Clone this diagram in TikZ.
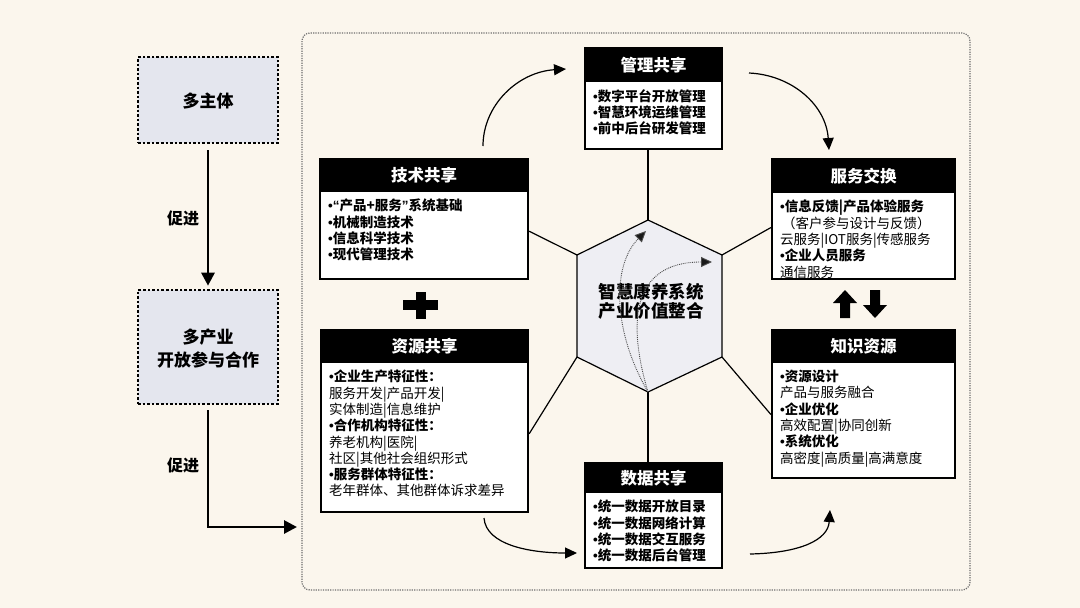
\documentclass[tikz,border=0pt]{standalone}
\usepackage{fontspec}
\setmainfont{Noto Sans CJK SC}
\newfontfamily\latinf{Liberation Sans}
\newcommand\bul{{\latinf •}}
\usetikzlibrary{arrows.meta,calc}
\definecolor{bgc}{RGB}{251,246,237}
\definecolor{lbox}{RGB}{228,230,238}
\definecolor{hexc}{RGB}{238,238,243}
\definecolor{framec}{RGB}{110,110,110}
\newcommand\mybox[8]{%
  \node[sbox, minimum width={#4-#2}, minimum height={#5-#3}] (#1) at ({(#2+#4)/2},{(#3+#5)/2}) {};
  \fill[black] (#2,#3) rectangle (#4,#6);
  \node[htitle] (#1-t) at ({(#2+#4)/2},{(#3+#6)/2}) {#7};
  \node[hbody] (#1-b) at (#2+8,#6+7) {#8};
}
\begin{document}
\begin{tikzpicture}[x=1pt,y=-1pt,
  sbox/.style={draw=black, line width=2.2pt, fill=white, inner sep=0pt},
  htitle/.style={text=white, font=\fontsize{16.5}{18}\selectfont\bfseries, inner sep=0pt},
  hbody/.style={anchor=north west, align=left, inner sep=0pt, font=\fontsize{13.5}{16.3}\selectfont},
  leftbox/.style={draw=black, line width=2.6pt, dash pattern=on 2.6pt off 2pt, fill=lbox, inner sep=0pt},
  lefttext/.style={font=\fontsize{17}{23}\selectfont\bfseries, align=center, inner sep=0pt},
  thickarrow/.style={line width=2.8pt, -{Triangle[length=13pt,width=13pt]}},
  curvearrow/.style={line width=1.2pt, -{Triangle[length=12pt,width=11pt]}},
  dotarrow/.style={densely dotted, line width=0.9pt, draw=black!70, -{Triangle[length=11pt,width=10pt,fill=black!90]}},
  hexline/.style={line width=1.2pt, draw=black},
  solidshape/.style={fill=black}
]
\fill[bgc] (0,0) rectangle (1080,608);
\useasboundingbox (0,0) rectangle (1080,608);

% big dotted frame
\draw[framec, line width=1.2pt, dash pattern=on 1.2pt off 1.2pt, rounded corners=8pt] (302,33) rectangle (970,590);

% left side
\node[leftbox, minimum width=140, minimum height=86] (m1) at (208,100) {};
\node[lefttext] (m1t) at (208,101) {多主体};
\node[leftbox, minimum width=140, minimum height=114] (m2) at (208,347) {};
\node[lefttext] (m2t) at (208,349) {多产业\\开放参与合作};
\draw[thickarrow] ($(m1.south)+(0,6)$) -- ($(m2.north)+(0,-3)$);
\node[lefttext, font=\fontsize{16}{18}\selectfont\bfseries] (p1) at (183,218) {促进};
\coordinate (c2) at (297,527);
\draw[thickarrow] ($(m2.south)+(0,5)$) |- (c2);
\node[lefttext, font=\fontsize{16}{18}\selectfont\bfseries] (p2) at (183,465) {促进};

% boxes
\mybox{gl}{585}{48}{722}{149}{82}{管理共享}{\bfseries \bul{}数字平台开放管理\\\bfseries \bul{}智慧环境运维管理\\\bfseries \bul{}前中后台研发管理}
\mybox{js}{320}{159}{528}{279}{192}{技术共享}{\bfseries \bul{}{\latinf\bfseries “}产品+服务{\latinf\bfseries ”}系统基础\\\bfseries \bul{}机械制造技术\\\bfseries \bul{}信息科学技术\\\bfseries \bul{}现代管理技术}
\mybox{fw}{772}{159}{955}{279}{193}{服务交换}{\bfseries \bul{}信息反馈|产品体验服务\\\hspace{2pt}（客户参与设计与反馈）\\云服务|IOT服务|传感服务\\\bfseries \bul{}企业人员服务\\通信服务}
\mybox{zy}{321}{330}{528}{512}{363}{资源共享}{\bfseries \bul{}企业生产特征性：\\服务开发|产品开发|\\实体制造|信息维护\\\bfseries \bul{}合作机构特征性：\\养老机构|医院|\\社区|其他社会组织形式\\\bfseries \bul{}服务群体特征性：\\老年群体、其他群体诉求差异}
\mybox{zs}{772}{330}{955}{478}{363}{知识资源}{\bfseries \bul{}资源设计\\产品与服务融合\\\bfseries \bul{}企业优化\\高效配置|协同创新\\\bfseries \bul{}系统优化\\高密度|高质量|高满意度}
\mybox{sj}{585}{463}{722}{568}{493}{数据共享}{\bfseries \bul{}统一数据开放目录\\\bfseries \bul{}统一数据网络计算\\\bfseries \bul{}统一数据交互服务\\\bfseries \bul{}统一数据后台管理}

% hexagon
\coordinate (ht) at (648,220);
\coordinate (hur) at (722,255);
\coordinate (hlr) at (722,357);
\coordinate (hb) at (648,392);
\coordinate (hll) at (577,357);
\coordinate (hul) at (577,255);
\draw[hexline, fill=hexc] (ht) -- (hur) -- (hlr) -- (hb) -- (hll) -- (hul) -- cycle;
\node[font=\fontsize{17.5}{19}\selectfont\bfseries, align=center, inner sep=0pt] (hx) at (651,301) {智慧康养系统\\产业价值整合};

% hexagon connectors
\draw[hexline] (ht) -- (ht |- gl.south);
\draw[hexline] (hb) -- (hb |- sj.north);
\draw[hexline] (hul) -- ($(js.north east)!0.6!(js.south east)$);
\draw[hexline] (hur) -- ($(fw.north west)!0.57!(fw.south west)$);
\draw[hexline] (hll) -- ($(zy.north east)!0.57!(zy.south east)$);
\draw[hexline] (hlr) -- ($(zs.north west)!0.57!(zs.south west)$);

% dotted arrows inside hexagon
\coordinate (d1) at (646,231);
\coordinate (d2) at (712,262);
\draw[dotarrow] (hb) .. controls (612,330) and (612,265) .. (d1);
\draw[dotarrow] (hb) .. controls (628,325) and (630,262) .. (d2);

% curved arrows
\coordinate (a1s) at (483,146);
\coordinate (a1e) at (566,69);
\draw[curvearrow] (a1s) .. controls (483,105) and (518,72) .. (a1e);
\coordinate (a2s) at (749,73);
\coordinate (a2e) at (829,150);
\draw[curvearrow] (a2s) .. controls (792,75) and (826,105) .. (a2e);
\coordinate (a3s) at (484,518);
\coordinate (a3e) at (577,553);
\draw[curvearrow] (a3s) .. controls (486,545) and (530,553) .. (a3e);
\coordinate (a4s) at (750,554);
\coordinate (a4e) at (830,510);
\draw[curvearrow] (a4s) .. controls (800,553) and (828,540) .. (a4e);

% plus sign
\fill[solidshape] (403,300) rectangle (438,310);
\fill[solidshape] (415.5,292) rectangle (425.5,319);

% up / down arrows
\fill[solidshape] (845,290) -- (857,303) -- (850,303) -- (850,318) -- (840,318) -- (840,303) -- (833,303) -- cycle;
\fill[solidshape] (875,318) -- (887,305) -- (880,305) -- (880,290) -- (870,290) -- (870,305) -- (863,305) -- cycle;
\end{tikzpicture}
\end{document}
